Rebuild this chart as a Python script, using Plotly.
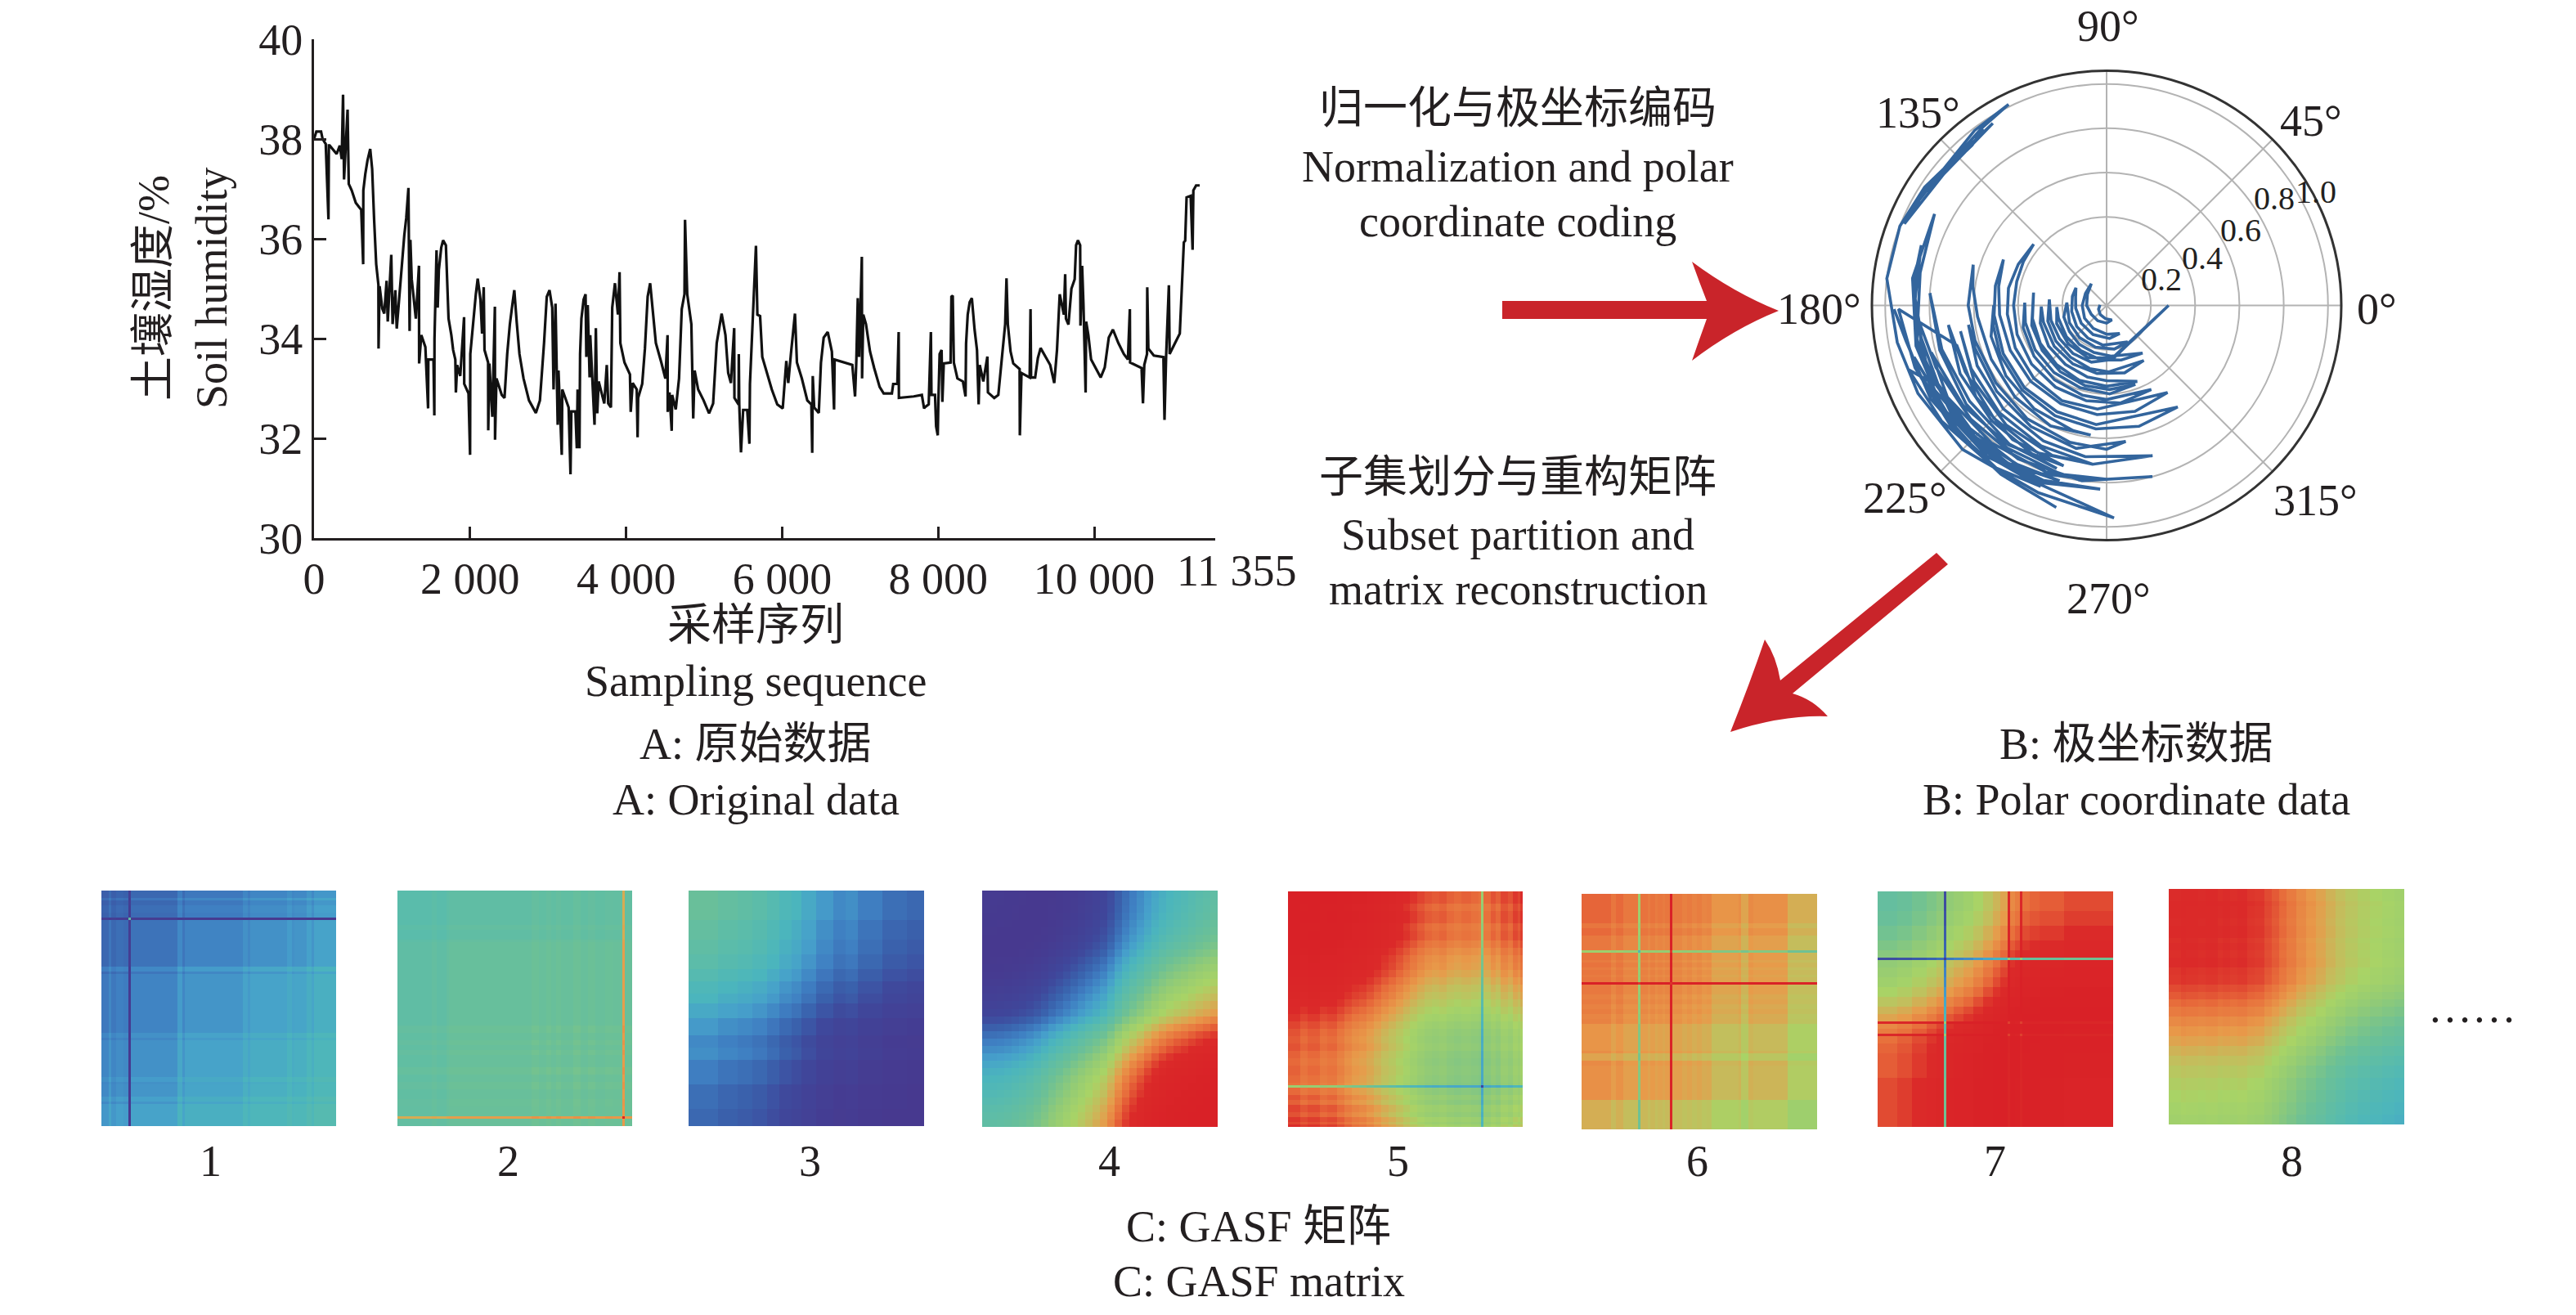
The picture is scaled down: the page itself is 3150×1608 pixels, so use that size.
import numpy as np
import plotly.graph_objects as go

W, H = 3150, 1608
SERIF = "Liberation Serif, Noto Sans CJK SC, serif"
INK = "#231f20"

# ---------- A: soil humidity series ----------
sample_x = [0,30,90,110,150,185,190,200,290,330,355,372,385,430,445,483,535,605,630,632,657,685,720,745,770,797,825,827,840,875,900,930,945,990,1007,1042,1060,1095,1130,1157,1182,1210,1225,1235,1252,1280,1305,1345,1347,1375,1427,1462,1465,1531,1542,1544,1570,1585,1600,1630,1654,1690,1707,1724,1760,1783,1811,1818,1835,1874,1923,1925,1980,2000,2003,2040,2074,2098,2133,2154,2175,2185,2231,2233,2248,2285,2295,2318,2320,2338,2406,2441,2476,2510,2546,2567,2598,2633,2685,2755,2843,2895,2948,2983,3018,3053,3070,3095,3123,3133,3175,3182,3263,3287,3298,3350,3368,3378,3402,3410,3427,3455,3480,3490,3508,3532,3540,3595,3612,3630,3648,3720,3752,3770,3805,3822,3857,3895,3916,3926,3979,4049,4059,4084,4136,4147,4154,4206,4241,4276,4308,4346,4381,4451,4503,4531,4533,4556,4584,4590,4636,4678,4713,4748,4755,4783,4836,4860,4878,4923,4993,5063,5115,5161,5203,5224,5273,5308,5343,5385,5388,5441,5444,5450,5472,5500,5552,5580,5587,5622,5647,5664,5682,5717,5745,5797,5867,5937,6007,6053,6078,6112,6147,6164,6189,6252,6322,6374,6385,6392,6410,6469,6497,6532,6584,6637,6665,6672,6899,6934,6951,6969,6986,7004,7021,7024,7039,7074,7126,7179,7249,7301,7406,7423,7476,7493,7496,7686,7790,7819,7826,7878,7906,7913,7959,7973,7994,8001,8018,8043,8053,8071,8158,8169,8186,8200,8246,8316,8350,8357,8378,8403,8431,8466,8497,8518,8532,8578,8630,8637,8718,8770,8823,8858,8875,8892,8927,8962,9043,9046,9067,9172,9183,9190,9242,9277,9312,9365,9435,9487,9522,9557,9610,9627,9637,9669,9707,9749,9767,9791,9819,9823,9844,9861,9889,9896,9924,9959,10029,10082,10134,10186,10239,10309,10379,10431,10456,10459,10606,10624,10641,10676,10679,10693,10763,10886,10900,10921,10956,10966,11026,11096,11148,11165,11183,11235,11260,11270,11305,11351]
humidity = [38.0,38.15,38.15,38.0,37.9,36.39,37.87,37.87,37.7,37.87,37.6,38.89,37.19,38.59,37.1,36.97,36.72,36.58,35.49,36.97,37.3,37.57,37.8,37.4,36.39,35.49,35.08,33.8,35.05,34.6,34.5,35.16,34.34,35.68,34.29,34.97,34.2,34.89,35.49,36.07,36.42,37.02,34.15,35.98,35.19,34.7,34.4,35.46,33.5,34.07,33.83,32.6,33.58,33.58,32.46,33.99,35.77,34.62,35.38,35.82,35.97,35.87,35.22,34.4,34.07,33.77,33.58,32.92,33.47,33.25,34.43,33.09,32.9,31.67,33.69,34.37,34.89,35.2,34.78,34.1,35.03,33.77,33.52,32.16,33.5,32.43,33.3,34.64,31.97,33.2,32.87,32.81,33.69,34.29,34.73,34.97,34.32,33.69,33.2,32.76,32.51,32.76,33.91,34.84,34.97,34.62,32.98,34.7,32.27,33.36,31.67,32.98,32.62,31.28,32.54,32.54,31.8,32.98,31.8,33.69,34.4,34.78,34.89,33.63,34.67,33.22,34.07,32.27,34.21,32.5,33.14,32.7,33.47,32.7,32.62,34.62,35.11,34.48,35.33,33.91,33.52,33.28,32.53,33.11,32.98,32.02,32.81,33.09,33.8,34.84,35.11,34.48,33.91,33.52,33.2,34.07,32.53,32.92,32.15,32.87,32.58,33.2,34.59,34.89,36.38,34.89,34.29,32.4,33.36,32.98,32.76,32.5,32.7,33.91,34.34,34.5,34.07,33.31,33.11,34.21,32.81,32.68,33.69,32.68,31.72,32.57,32.57,31.89,33.09,34.29,35.11,35.86,34.48,34.45,33.63,33.36,32.98,32.68,32.6,33.55,33.11,33.69,34.23,34.5,33.52,33.2,32.76,32.68,31.71,33.25,32.62,32.51,33.52,34.02,34.13,33.74,32.58,33.58,33.47,32.84,33.58,34.81,33.63,34.48,35.64,33.2,34.48,34.29,33.74,33.41,33.03,32.9,32.9,33.09,33.09,34.13,32.81,32.84,32.87,32.6,32.62,32.68,34.13,32.87,32.87,32.24,32.06,32.68,33.69,33.77,32.73,33.5,33.52,34.84,34.86,33.52,33.2,33.14,32.84,33.9,34.48,34.73,34.81,34.18,33.77,32.68,33.47,33.14,33.64,32.92,32.81,32.87,33.77,34.29,35.21,34.29,33.74,33.5,33.39,32.06,33.31,33.22,34.59,33.22,33.22,33.61,33.81,33.66,33.47,33.11,33.77,34.89,34.48,35.29,34.4,34.28,35.0,35.19,35.87,35.97,35.87,34.26,35.46,34.7,32.92,34.34,34.07,33.58,33.36,33.22,33.42,34.02,34.18,33.91,33.69,33.58,34.59,33.52,33.41,32.7,33.47,33.69,35.03,33.8,33.66,33.63,32.37,33.66,35.07,33.69,33.88,34.1,35.93,35.96,36.83,36.86,35.78,36.97,37.07,37.07]
x_tick_vals = [0,2000,4000,6000,8000,10000,11550]
x_tick_text = ["0","2 000","4 000","6 000","8 000","10 000",""]
y_tick_vals = [30,32,34,36,38,40]

# ---------- B: polar coordinate data ----------
polar_theta = [
 175,205,235,265,290, 270,240,210,180,150,125, 150,180,210,240,270,295, 275,245,215,185,165,150,
 165,190,215,240,265,300, 280,255,230,205,176, 195,215,235,255,275,307, 285,262,240,218,195,182,
 200,225,250,276,0,276, 255,235,215,195,174, 195,215,235,255,272,304, 285,262,240,218,195,181,
 195,215,235,255,270,292, 270,250,230,210,190,170, 195,215,235,255,272,290, 272,252,232,212,192,178,
 195,215,235,255,270,298, 278,258,238,218,198,180,165,152,140,
 155,170,185,205,225,245,265,305, 285,265,245,225,205,185,170,156,
 170,185,205,225,245,265,305, 285,265,245,225,205,190,180,
 195,215,235,255,263, 245,225,205,185,172,163,
 180,195,215,235,255,270,278, 258,238,218,198,188,
 205,225,245,262,287, 265,245,225,205,190,
 210,230,250,265, 245,225,205,187,
 205,225,245,253, 235,215,195,176,
 195,215,235,255,270,285, 262,240,220,200,185,174,
 190,205,222,240,255, 238,220,200,180,170,162,
 178,195,215,235,250, 232,212,192,172,152,
 170,190,210,230,250,268, 248,228,208,190,181,
 200,222,240,256, 238,218,198,181,
 195,215,235,255, 235,215,195, 210,230,250,265, 245,225,205,195, 215,235,250, 235,215,198,
 205,225,245,272, 250,225,205,190,181,173,159,147,136,125,116,127,140,156,148,134,122,141,158,147,130,125]
polar_r = [
 .03,.04,.05,.06,.07, .08,.08,.08,.09,.10,.12, .11,.11,.115,.12,.13,.14, .15,.145,.14,.14,.145,.16,
 .16,.16,.165,.17,.18,.19, .20,.195,.19,.185,.18, .20,.205,.215,.22,.23,.27, .255,.245,.235,.23,.225,.225,
 .24,.245,.25,.24,.28,.245, .265,.265,.26,.26,.26, .275,.28,.285,.295,.30,.30, .315,.31,.305,.30,.295,.295,
 .31,.32,.325,.335,.34,.37, .365,.36,.35,.345,.34,.335, .35,.355,.365,.375,.38,.38, .40,.39,.385,.38,.375,.37,
 .39,.40,.41,.42,.425,.43, .445,.44,.435,.43,.425,.42,.42,.425,.43,
 .44,.45,.45,.455,.465,.475,.47,.48, .495,.495,.49,.485,.48,.485,.495,.51,
 .51,.51,.515,.525,.53,.54,.56, .565,.56,.55,.54,.53,.52,.51,
 .54,.555,.57,.585,.59, .60,.585,.575,.585,.61,.63,
 .625,.615,.61,.625,.64,.65,.62, .66,.645,.63,.625,.63,
 .645,.66,.675,.69,.71, .72,.70,.685,.675,.67,
 .69,.705,.72,.72, .735,.72,.705,.72,
 .73,.735,.755,.77, .765,.755,.77,.80,
 .78,.775,.785,.79,.785,.80, .80,.80,.80,.82,.85,.88,
 .85,.84,.83,.825,.82, .84,.85,.86,.87,.875,.88,
 .865,.86,.855,.85,.85, .87,.875,.88,.885,.88,
 .855,.87,.88,.86,.84,.83, .86,.88,.90,.92,.96,
 .90,.88,.90,.94, .90,.89,.91,.94,
 .70,.72,.74,.75, .77,.79,.82, .83,.81,.80,.79, .83,.84,.87,.90, .87,.86,.87, .89,.91,.94,
 .85,.84,.86,.96, .90,.92,.94,.96,.97,1.0,1.0,.98,.955,.98,1.01,.99,.96,.99,.965,.95,.97,.945,.985,.97,.945,.975]
radial_ticks = [0.2,0.4,0.6,0.8,1.0]
angle_ticks = [0,45,90,135,180,225,270,315]
angle_text = ["0°","45°","90°","135°","180°","225°","270°","315°"]

# ---------- C: GASF subsets (angle of each sample, and how many samples hold it) ----------
phi1_vals = [1.20,1.12,1.20,1.16,1.18,2.30,1.14,1.02,1.12,1.05,1.05,0.98,1.03,0.98,0.93,0.98,0.96,0.90,0.96,0.89]
phi1_runs = [3,1,2,3,2,1,19,2,1,2,22,2,1,15,2,1,5,2,1,9]
phi2_vals = [.87,.84,.87,.83,.81,.77,.80,.77,.80,.77,.80,.76,.80,.77,.80,.78,.79,.13,.79]
phi2_runs = [14,2,4,1,34,3,3,2,2,2,5,3,3,3,4,3,4,1,3]
phi3_vals = [.80,.85,.88,.92,.98,1.05,1.10,1.18,1.28,1.36,1.33,1.42,1.50,1.54]
phi3_runs = [12,8,6,6,5,5,4,6,7,5,5,10,10,7]
phi4_vals = [1.46,1.47,1.48,1.50,1.53,1.56,1.60,1.65,1.71,1.78,1.84,1.90,1.96,2.02,2.08,2.14,2.20,2.30,2.42,2.52,2.60,2.67,2.75,2.82,2.88,2.93,2.97,3.0,3.04,3.08,3.11,3.14]
phi4_runs = [3]*32
phi5_vals = [.03,.08,.05,.10,.08,.13,.18,.22,.24,.28,.33,.38,.42,.47,.52,.57,.62,.66,.68,.66,.70,.72,.70,.72,.74,1.28,.72,.66,.70,.62,.66,.58,.62,.55]
phi5_runs = [5,3,5,3,4,3,3,3,3,3,3,3,3,3,3,3,3,3,3,3,3,3,4,3,1,1,3,2,2,3,2,2,1,1]
phi6_vals = [.37,.42,.38,.43,.92,.41,.44,.41,.44,.42,.44,.42,-.3,.43,.46,.44,.47,.45,.48,.47,.54,.51,.60,.50,.52,.64]
phi6_runs = [12,2,3,6,1,3,1,2,1,2,1,2,1,4,2,2,2,2,2,2,11,1,3,2,14,12]
phi7_vals = [.82,.78,.72,.66,.60,1.7,.55,.50,.45,.38,.30,.22,.15,-.32,.05,0.0,-.32,-.05,-.08,-.10,-.15]
phi7_runs = [8,6,6,4,3,1,3,4,4,4,4,3,3,1,2,2,1,3,4,10,20]
phi8_vals = [.29,.27,.28,.29,.28,.30,.29,.30,.29,.32,.33,.38,.42,.47,.52,.58,.63,.68,.74,.79,.84,.88,.91,.94,.97]
phi8_runs = [5,2,5,3,5,2,3,3,4,3,4,3,3,3,4,4,4,4,4,4,5,5,5,5,4]
subsets = [(phi1_vals,phi1_runs),(phi2_vals,phi2_runs),(phi3_vals,phi3_runs),(phi4_vals,phi4_runs),
           (phi5_vals,phi5_runs),(phi6_vals,phi6_runs),(phi7_vals,phi7_runs),(phi8_vals,phi8_runs)]
matrix_labels = ["1","2","3","4","5","6","7","8"]

gasf_scale = [[0,"#47398f"],[.08,"#3f479b"],[.14,"#3a62ad"],[.2,"#3f7fc2"],[.27,"#46a0cb"],[.34,"#4bb5bd"],
              [.42,"#5bbcaa"],[.5,"#6cc096"],[.6,"#92cb76"],[.68,"#a8d366"],[.74,"#c4bd5c"],[.8,"#e89a4a"],
              [.86,"#e8703c"],[.92,"#db2a29"],[1,"#d92127"]]

def fx(px): return px / W
def fy(py): return 1 - py / H

fig = go.Figure()
fig.add_trace(go.Scatter(x=sample_x, y=humidity, mode="lines", line=dict(color="#111111", width=3.2),
                         showlegend=False, hoverinfo="skip"))
fig.add_trace(go.Scatterpolar(theta=polar_theta, r=polar_r, mode="lines", line=dict(color="#33659d", width=3.6),
                              showlegend=False, hoverinfo="skip"))

boxes = [(124,411,1089,1377),(486,773,1089,1377),(842,1130,1089,1377),(1201,1489,1089,1378),
         (1575,1862,1090,1378),(1934,2222,1093,1381),(2296,2584,1090,1378),(2652,2940,1087,1375)]
layout_axes = {}
for i, ((vals, runs), box) in enumerate(zip(subsets, boxes)):
    phi = np.repeat(vals, runs)
    z = np.cos(np.add.outer(phi, phi))          # Gramian angular summation field
    n = i + 2
    fig.add_trace(go.Heatmap(z=z, zmin=-1, zmax=1, colorscale=gasf_scale, showscale=False, hoverinfo="skip",
                             xaxis=f"x{n}", yaxis=f"y{n}"))
    layout_axes[f"xaxis{n}"] = dict(domain=[fx(box[0]), fx(box[1])], visible=False, anchor=f"y{n}")
    layout_axes[f"yaxis{n}"] = dict(domain=[fy(box[3]), fy(box[2])], visible=False, anchor=f"x{n}", autorange="reversed")

texts = [
 ("土壤湿度/%", 188, 352, -90), ("Soil humidity", 259, 352, -90),
 ("11 355", 1512, 698, 0),
 ("采样序列", 924, 765, 0), ("Sampling sequence", 924, 833, 0),
 ("A: 原始数据", 924, 910, 0), ("A: Original data", 924, 978, 0),
 ("归一化与极坐标编码", 1856, 133, 0), ("Normalization and polar", 1856, 204, 0), ("coordinate coding", 1856, 271, 0),
 ("子集划分与重构矩阵", 1856, 584, 0), ("Subset partition and", 1856, 654, 0), ("matrix reconstruction", 1856, 721, 0),
 ("B: 极坐标数据", 2612, 910, 0), ("B: Polar coordinate data", 2612, 978, 0),
 ("C: GASF 矩阵", 1539, 1500, 0), ("C: GASF matrix", 1539, 1567, 0),
 ("……", 3023, 1232, 0),
]
label_x = [257, 621, 990, 1356, 1710, 2075, 2439, 2802]
for t, lx in zip(matrix_labels, label_x):
    texts.append((t, lx, 1420, 0))
angle_pos = [(2906,378),(2826,148),(2578,32),(2345,138),(2224,378),(2329,609),(2578,732),(2831,612)]
for t, (ax, ay) in zip(angle_text, angle_pos):
    texts.append((t, ax, ay, 0))
annotations = [dict(text=t, x=fx(x), y=fy(y), xref="paper", yref="paper", xanchor="center", yanchor="middle",
                    textangle=a, showarrow=False, font=dict(family=SERIF, size=54, color=INK))
               for t, x, y, a in texts]
radial_labels = [("0.2", 2643, 341), ("0.4", 2693, 315), ("0.6", 2740, 281), ("0.8", 2781, 242), ("1.0", 2832, 234)]
annotations += [dict(text=t, x=fx(x), y=fy(y), xref="paper", yref="paper", xanchor="center", yanchor="middle",
                     showarrow=False, font=dict(family=SERIF, size=40, color=INK)) for t, x, y in radial_labels]

def path(cmds):
    out = []
    for c in cmds:
        if isinstance(c, str):
            out.append(c)
        else:
            out.append(f"{fx(c[0]):.5f},{fy(c[1]):.5f}")
    return " ".join(out)

arrow1 = path(["M",(1837,368),"L",(2087,368),"Q",(2078,345),(2069,320),"Q",(2120,358),(2175,380),"Q",(2120,402),(2069,441),
               "Q",(2078,415),(2087,390),"L",(1837,390),"Z"])
arrow2 = path(["M",(2368,676),"L",(2382,690),"L",(2192,848),"Q",(2217,855),(2235,876),"Q",(2180,874),(2116,895),
               "Q",(2140,835),(2158,782),"Q",(2172,802),(2177,832),"Z"])
shapes = [dict(type="path", xref="paper", yref="paper", path=arrow1, fillcolor="#c9242a", line=dict(width=0)),
          dict(type="path", xref="paper", yref="paper", path=arrow2, fillcolor="#c9242a", line=dict(width=0))]

cx, cy, R = 2576, 373.5, 287
fig.update_layout(
    width=W, height=H, margin=dict(l=0, r=0, t=0, b=0, autoexpand=False), paper_bgcolor="white", plot_bgcolor="white",
    showlegend=False, annotations=annotations, shapes=shapes,
    font=dict(family=SERIF, size=54, color=INK),
    xaxis=dict(domain=[fx(384), fx(1486)], range=[0, 11550], tickmode="array", tickvals=x_tick_vals, ticktext=x_tick_text,
               tickangle=0, ticks="inside", ticklen=14, tickwidth=2.5, tickcolor=INK, showline=True, linecolor=INK, linewidth=3,
               showgrid=False, zeroline=False, tickfont=dict(family=SERIF, size=54, color=INK), anchor="y"),
    yaxis=dict(domain=[fy(658), fy(48)], range=[30, 40], tickmode="array", tickvals=y_tick_vals,
               ticks="inside", ticklen=15, tickwidth=2.5, tickcolor=INK, showline=True, linecolor=INK, linewidth=3,
               showgrid=False, zeroline=False, tickfont=dict(family=SERIF, size=54, color=INK), anchor="x"),
    polar=dict(
        domain=dict(x=[fx(cx-R), fx(cx+R)], y=[fy(cy+R), fy(cy-R)]),
        bgcolor="white",
        radialaxis=dict(range=[0, 1.06], angle=22.5, tickvals=radial_ticks, showticklabels=False,
                        showline=False, ticks="", gridcolor="#b3b3b3", gridwidth=2),
        angularaxis=dict(tickvals=angle_ticks, showticklabels=False, ticks="",
                         linecolor="#333333", linewidth=3, gridcolor="#b3b3b3", gridwidth=2),
    ),
    **layout_axes,
)
fig.write_html("out.html", post_script="document.body.style.margin='0';",
               config=dict(displayModeBar=False))
